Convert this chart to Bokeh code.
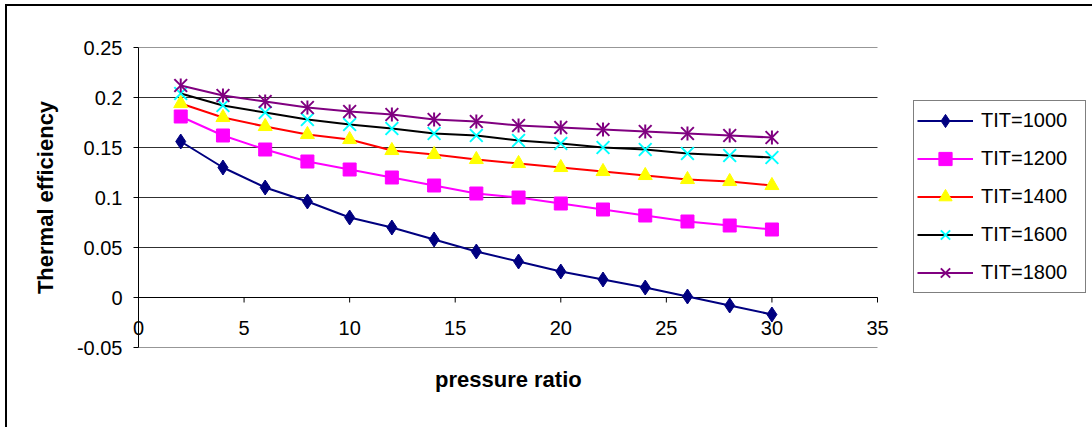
import math

from bokeh.embed import file_html
from bokeh.models import (FixedTicker, Legend, LegendItem, LinearAxis,
                          NumeralTickFormatter, Range1d, Title)
from bokeh.plotting import figure
from bokeh.resources import INLINE

# Thermal efficiency of the cycle against compressor pressure ratio,
# one curve per turbine inlet temperature (TIT).
pressure_ratio = [2, 4, 6, 8, 10, 12, 14, 16, 18, 20, 22, 24, 26, 28, 30]
tit_1000 = [0.156, 0.130, 0.110, 0.096, 0.080, 0.070, 0.058, 0.046, 0.036, 0.026,
            0.018, 0.010, 0.001, -0.008, -0.017]
tit_1200 = [0.181, 0.162, 0.148, 0.136, 0.128, 0.120, 0.112, 0.104, 0.100, 0.094,
            0.088, 0.082, 0.076, 0.072, 0.068]
tit_1400 = [0.194, 0.180, 0.171, 0.163, 0.158, 0.147, 0.143, 0.138, 0.134, 0.130,
            0.126, 0.122, 0.118, 0.116, 0.112]
tit_1600 = [0.204, 0.192, 0.185, 0.178, 0.173, 0.169, 0.164, 0.162, 0.157, 0.154,
            0.150, 0.148, 0.144, 0.142, 0.140]
tit_1800 = [0.212, 0.202, 0.196, 0.190, 0.186, 0.183, 0.178, 0.176, 0.172, 0.170,
            0.168, 0.166, 0.164, 0.162, 0.160]

series_labels = ["TIT=1000", "TIT=1200", "TIT=1400", "TIT=1600", "TIT=1800"]

x_ticks = [0, 5, 10, 15, 20, 25, 30, 35]
x_tick_labels = ["0", "5", "10", "15", "20", "25", "30", "35"]
y_ticks = [-0.05, 0, 0.05, 0.1, 0.15, 0.2, 0.25]

FONT = "Liberation Sans"

# Layout: the plot area spans x = 0..35 over 739 px; the canvas frame runs on
# to the right edge so that the legend can sit beside the plot area.
W, H = 1092, 427
LEFT, TOP, BOTTOM = 138, 47, 80
PLOT_W = 739
X_MIN, X_MAX = x_ticks[0], x_ticks[-1]
frame_w = W - LEFT
x_end = X_MIN + (X_MAX - X_MIN) * frame_w / PLOT_W

p = figure(width=W, height=H, output_backend="svg", toolbar_location=None,
           x_range=Range1d(X_MIN, x_end), y_range=Range1d(y_ticks[0], y_ticks[-1]),
           x_axis_location=None, y_axis_location=None,
           min_border_left=LEFT, min_border_right=0, min_border_top=TOP,
           min_border_bottom=BOTTOM, background_fill_color="white",
           border_fill_color=None, outline_line_color=None)
p.xgrid.visible = False
p.ygrid.visible = False

# chart-area border (top and left edges) drawn behind the canvas
p.styles = {
    "background": "linear-gradient(#000,#000) 5px 4px / 2px 100% no-repeat, "
                  "linear-gradient(#000,#000) 5px 4px / 100% 2px no-repeat, #ffffff"
}

# value axis
yaxis = LinearAxis(ticker=FixedTicker(ticks=y_ticks),
                   formatter=NumeralTickFormatter(format="0.[00]"),
                   axis_label="Thermal efficiency",
                   axis_label_text_font=FONT, axis_label_text_font_size="22px",
                   axis_label_text_font_style="bold", axis_label_text_color="black",
                   axis_label_standoff=16,
                   major_label_text_font=FONT, major_label_text_font_size="20px",
                   major_label_text_color="black", major_label_standoff=11,
                   major_tick_out=5, major_tick_in=0, major_tick_line_color="black",
                   minor_tick_line_color=None, axis_line_color="black")
p.add_layout(yaxis, "left")

# horizontal gridlines across the plot area only
p.segment(x0=[X_MIN] * len(y_ticks), x1=[X_MAX] * len(y_ticks), y0=y_ticks, y1=y_ticks,
          line_color="#303030", line_width=1)

# category axis: its labels are lifted up to sit under the y = 0 crossing line
xaxis = LinearAxis(ticker=FixedTicker(ticks=x_ticks), bounds=(X_MIN, X_MAX),
                   major_label_overrides={t: s for t, s in zip(x_ticks, x_tick_labels)},
                   axis_line_color=None, major_tick_line_color=None,
                   minor_tick_line_color=None, major_tick_out=0, major_tick_in=0,
                   major_label_standoff=-27, major_label_text_font=FONT,
                   major_label_text_font_size="20px", major_label_text_color="black")
p.add_layout(xaxis, "below")

# x-axis title, centred under the 0..35 plot area
X_TITLE = "pressure ratio"
title_half_width = 73  # half the rendered width of the bold 22px title
p.add_layout(Title(text=X_TITLE, align="left",
                   offset=PLOT_W / 2 - title_half_width, text_font=FONT,
                   text_font_size="22px", text_font_style="bold",
                   text_color="black", standoff=35), "below")

X_AXIS_AT = 0
p.segment(x0=[X_MIN], x1=[X_MAX], y0=[X_AXIS_AT], y1=[X_AXIS_AT],
          line_color="black", line_width=1)
p.ray(x=x_ticks, y=[X_AXIS_AT] * len(x_ticks), length=5, length_units="screen",
      angle=-math.pi / 2, line_color="black", line_width=1)

items = []

# TIT=1000: navy diamonds
l1 = p.line(pressure_ratio, tit_1000, line_color="#000080", line_width=2)
m1 = p.scatter(pressure_ratio, tit_1000, marker="diamond", size=15,
               fill_color="#000080", line_color="#000080")
items.append(LegendItem(label=series_labels[0], renderers=[l1, m1]))

# TIT=1200: magenta squares
l2 = p.line(pressure_ratio, tit_1200, line_color="#FF00FF", line_width=2)
m2 = p.scatter(pressure_ratio, tit_1200, marker="square", size=13,
               fill_color="#FF00FF", line_color="#FF00FF")
items.append(LegendItem(label=series_labels[1], renderers=[l2, m2]))

# TIT=1400: red line, yellow triangles
l3 = p.line(pressure_ratio, tit_1400, line_color="#FF0000", line_width=2)
m3 = p.scatter(pressure_ratio, tit_1400, marker="triangle", size=14,
               fill_color="#FFFF00", line_color="#FFFF00")
items.append(LegendItem(label=series_labels[2], renderers=[l3, m3]))

# TIT=1600: black line, cyan crosses
l4 = p.line(pressure_ratio, tit_1600, line_color="#000000", line_width=2)
m4 = p.scatter(pressure_ratio, tit_1600, marker="x", size=18,
               line_color="#00FFFF", line_width=2)
items.append(LegendItem(label=series_labels[3], renderers=[l4, m4]))

# TIT=1800: purple stars (x plus a vertical bar)
l5 = p.line(pressure_ratio, tit_1800, line_color="#800080", line_width=2)
m5a = p.scatter(pressure_ratio, tit_1800, marker="x", size=18,
                line_color="#800080", line_width=2)
m5b = p.scatter(pressure_ratio, tit_1800, marker="dash", angle=math.pi / 2, size=14,
                line_color="#800080", line_width=2)
items.append(LegendItem(label=series_labels[4], renderers=[l5, m5a, m5b]))

legend = Legend(items=items, location=(775, 54), border_line_color="black",
                border_line_width=1, background_fill_color="white",
                background_fill_alpha=1, padding=3, spacing=5, margin=0,
                glyph_width=56, glyph_height=33, label_height=33, label_width=101,
                label_standoff=8, label_text_font=FONT, label_text_font_size="20px",
                label_text_color="black", label_text_baseline="middle")
p.add_layout(legend)

open("out.html", "w").write(file_html(p, INLINE))
